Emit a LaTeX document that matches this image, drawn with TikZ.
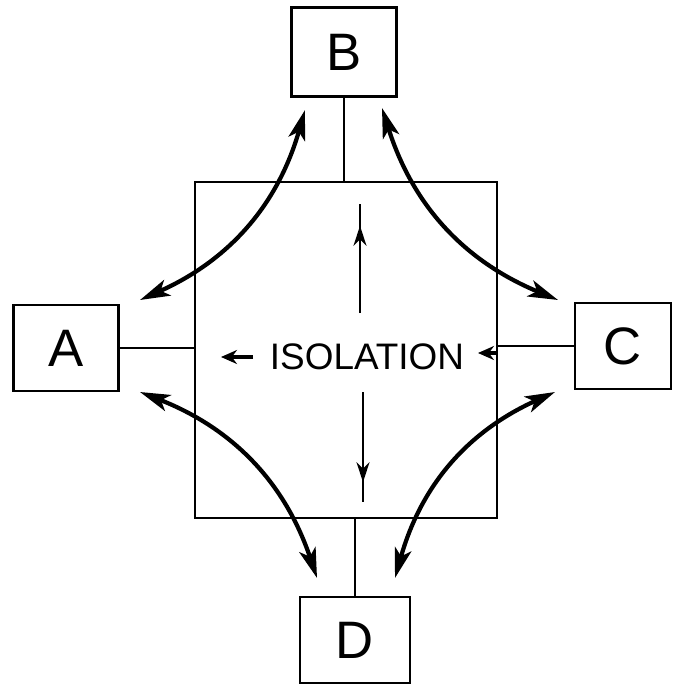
\documentclass[tikz,border=0pt]{standalone}
\usepackage{fontspec}
\setmainfont{Liberation Sans}
\usetikzlibrary{arrows.meta,decorations.markings}

\begin{document}
\begin{tikzpicture}[
  x=0.02cm, y=-0.02cm,
  box/.style={draw, line width=1.6pt, minimum width=2.1cm, minimum height=1.72cm,
    inner sep=0pt, font=\fontsize{30}{30}\selectfont},
  link/.style={line width=1.4pt},
  swing/.style={line width=2.4pt, bend right=25,
    {Stealth[length=6mm,width=3.4mm,inset=1.5mm]}-{Stealth[length=6mm,width=3.4mm,inset=1.5mm]}},
  push/.style={line width=1.3pt, postaction={decorate},
    decoration={markings, mark=at position #1 with {\arrow{Stealth[length=4mm,width=2.6mm]}}}}
]
\useasboundingbox (0,0) rectangle (673,686);

\node[draw, line width=1.6pt, minimum width=6.04cm, minimum height=6.72cm] (room) at (346,350) {};
\node[box, minimum height=1.78cm] (B) at (344,52) {B};
\node[box] (A) at (66,348) {A};
\node[box, minimum width=1.92cm] (C) at (623,346) {C};
\node[box, minimum width=2.2cm] (D) at (355,640) {D};
\node[font=\fontsize{21}{21}\selectfont] (iso) at (367,357) {ISOLATION};

\draw[link] (A.east) -- (A.east -| room.west);
\draw[link] (C.west) -- (C.west -| room.east);
\draw[link] (B.south) -- (B.south |- room.north);
\draw[link] (D.north) -- (D.north |- room.south);

\coordinate (ab1) at (140,300); \coordinate (ab2) at (305,110);
\coordinate (bc1) at (382,108); \coordinate (bc2) at (558,300);
\coordinate (ad1) at (140,392); \coordinate (ad2) at (317,578);
\coordinate (cd1) at (555,392); \coordinate (cd2) at (395,578);
\draw[swing] (ab1) to (ab2);
\draw[swing] (bc1) to (bc2);
\draw[swing] (ad2) to (ad1);
\draw[swing] (cd1) to (cd2);

\coordinate (up1) at (360,313); \coordinate (up2) at (360,204);
\coordinate (dn1) at (363,392); \coordinate (dn2) at (363,502);
\draw[push=0.8] (up1) -- (up2);
\draw[push=0.82] (dn1) -- (dn2);

\coordinate (lt1) at (253,357); \coordinate (lt2) at (221,357);
\coordinate (rt1) at (497,353); \coordinate (rt2) at (478,353);
\draw[line width=2pt, -{Stealth[length=3.2mm,width=2.8mm]}] (lt1) -- (lt2);
\draw[line width=2pt, -{Stealth[length=3.2mm,width=2.8mm]}] (rt1) -- (rt2);
\end{tikzpicture}
\end{document}
